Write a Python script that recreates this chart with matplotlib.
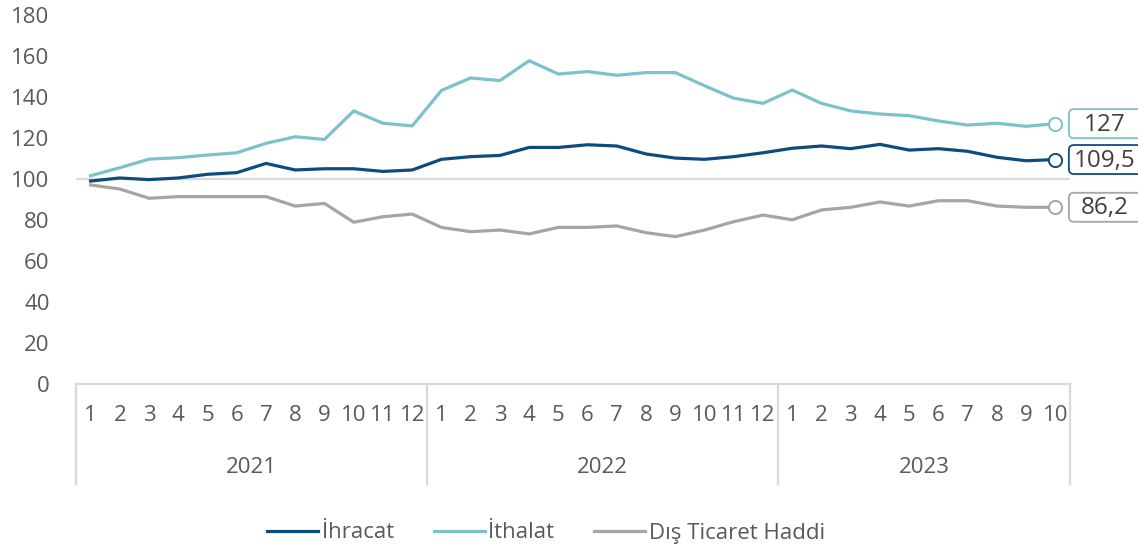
import matplotlib

matplotlib.use("Agg")
import matplotlib.pyplot as plt
import matplotlib.transforms as mtransforms
from matplotlib.patches import FancyBboxPatch

plt.rcParams["font.family"] = ["Open Sans", "DejaVu Sans"]

# --- data ---
years = ["2021", "2022", "2023"]
months_per_year = [12, 12, 10]
month_labels = [str(m) for n in months_per_year for m in range(1, n + 1)]

ihracat = [99.0, 100.5, 99.7, 100.5, 102.3, 103.1, 107.6, 104.4, 105.0, 105.0, 103.7, 104.4,
           109.6, 110.9, 111.5, 115.4, 115.4, 116.7, 116.1, 112.2, 110.2, 109.6, 110.9, 112.8,
           115.0, 116.1, 114.8, 116.9, 114.1, 114.8, 113.5, 110.6, 108.9, 109.5]
ithalat = [101.6, 105.5, 109.7, 110.4, 111.7, 112.8, 117.4, 120.6, 119.3, 133.2, 127.2, 125.9,
           143.2, 149.3, 148.0, 157.7, 151.2, 152.4, 150.6, 151.9, 151.9, 145.5, 139.4, 136.9,
           143.4, 136.9, 133.2, 131.7, 130.9, 128.3, 126.3, 127.2, 125.7, 127.0]
haddi = [97.1, 95.1, 90.6, 91.4, 91.4, 91.4, 91.4, 86.8, 88.1, 78.9, 81.6, 82.9,
         76.4, 74.3, 75.1, 73.2, 76.4, 76.4, 77.1, 73.8, 71.9, 75.1, 79.2, 82.4,
         80.1, 84.9, 86.2, 88.8, 86.8, 89.4, 89.4, 86.8, 86.2, 86.2]
end_labels = ["109,5", "127", "86,2"]

series = [
    ("İhracat", ihracat, "#0E4C7D"),
    ("İthalat", ithalat, "#7DC1CB"),
    ("Dış Ticaret Haddi", haddi, "#A5A5A5"),
]

TXT = "#595959"
AXC = "#D9D9D9"
FS = 16

fig = plt.figure(figsize=(11.38, 5.47), dpi=100)
ax = fig.add_axes([76 / 1138, 1 - 384 / 547, (1070 - 76) / 1138, 369 / 547])

x = list(range(len(month_labels)))
ax.axhline(100, color=AXC, lw=1.6, zorder=1)

for (name, vals, col), lab in zip(series, end_labels):
    ax.plot(x, vals, color=col, lw=2.3, label=name, zorder=3, solid_joinstyle="round")
    ax.plot(x[-1], vals[-1], "o", ms=9.5, mfc="white", mec=col, mew=1.4, zorder=4)
    # value box to the right of the last point (in inches, anchored at the point)
    tr = fig.dpi_scale_trans + mtransforms.ScaledTranslation(x[-1], vals[-1], ax.transData)
    box = FancyBboxPatch((0.135, -0.145), 0.9, 0.29,
                         boxstyle="round,pad=0,rounding_size=0.05",
                         transform=tr, fc="white", ec=col, lw=1.3, clip_on=False, zorder=5)
    fig.add_artist(box)
    fig.text(0.49, -0.01, lab, transform=tr, ha="center", va="center",
             fontsize=17.5, color="#404040", zorder=6)

ax.set_xlim(-0.5, len(x) - 0.5)
ax.set_ylim(0, 180)
ax.set_yticks(range(0, 181, 20))
ax.set_xticks(x)
ax.set_xticklabels(month_labels)
ax.tick_params(axis="y", length=0, pad=19, labelsize=FS, labelcolor=TXT)
ax.tick_params(axis="x", length=0, pad=15, labelsize=FS, labelcolor=TXT)
for s in ["top", "right", "left"]:
    ax.spines[s].set_visible(False)
ax.spines["bottom"].set_color(AXC)
ax.spines["bottom"].set_linewidth(1.6)

# multi-level category axis: year separators and labels
btr = mtransforms.blended_transform_factory(ax.transData, ax.transAxes)
start = 0
bounds = [-0.5]
for yr, n in zip(years, months_per_year):
    ax.text(start + (n - 1) / 2, -0.225, yr, transform=btr, ha="center", va="center",
            fontsize=FS, color=TXT)
    start += n
    bounds.append(start - 0.5)
for b in bounds:
    ax.plot([b, b], [0, -0.27], transform=btr, color=AXC, lw=1.6, clip_on=False)

fig.legend(loc="center", bbox_to_anchor=(546 / 1138, 1 - 533 / 547), ncol=3,
           frameon=False, fontsize=FS, labelcolor=TXT, handlelength=2.3,
           handletextpad=0.15, columnspacing=1.8)

fig.savefig("out.png", dpi=100)
